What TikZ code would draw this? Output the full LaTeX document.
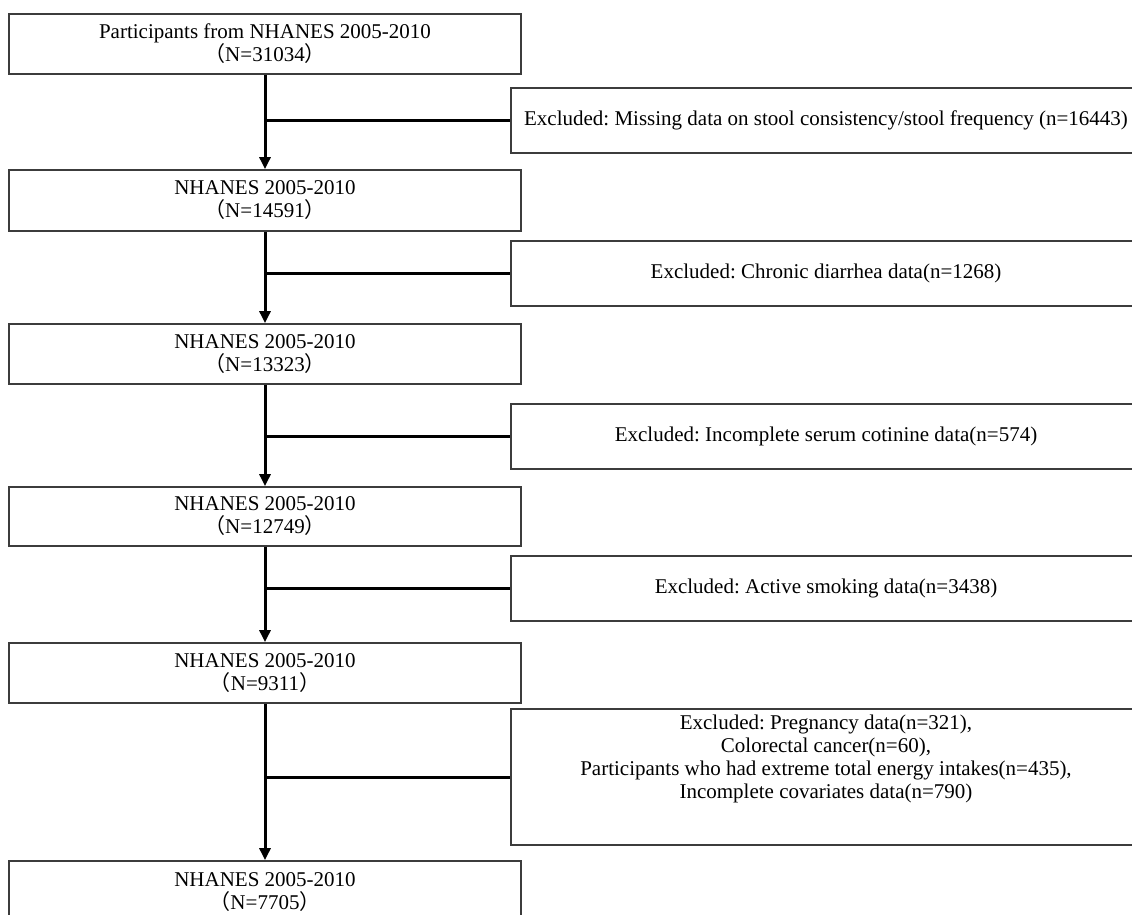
\documentclass[tikz,border=0pt]{standalone}
\usepackage{fontspec}
\setmainfont{Liberation Serif}
\newfontfamily\cjk{Noto Sans CJK SC}
\newcommand{\fl}{{\cjk （}}
\newcommand{\fr}{{\cjk ）}}
\usetikzlibrary{arrows.meta}
\definecolor{boxline}{HTML}{3C3C3C}
\tikzset{
  mainbox/.style={draw=boxline, line width=1.8pt, minimum width=512pt, inner sep=0pt, align=center,
    font=\fontsize{21}{23}\selectfont\frenchspacing},
  exbox/.style={draw=boxline, line width=1.8pt, minimum width=630pt, inner sep=0pt, minimum height=65pt, align=center,
    font=\fontsize{21}{23}\selectfont\frenchspacing},
  flow/.style={line width=3pt, black, -{Triangle[width=11pt,length=12pt]}},
  branch/.style={line width=3pt, black},
}
\begin{document}
\begin{tikzpicture}[x=1pt,y=-1pt]
\useasboundingbox (0,0) rectangle (1132,915);
\clip (0,0) rectangle (1132,915);
\node[mainbox, minimum height=60pt] (b1) at (265,44) {Participants from NHANES 2005-2010\\\fl N=31034\fr};
\node[mainbox, minimum height=61pt] (b2) at (265,200.5) {NHANES 2005-2010\\\fl N=14591\fr};
\node[mainbox, minimum height=60pt] (b3) at (265,354) {NHANES 2005-2010\\\fl N=13323\fr};
\node[mainbox, minimum height=59pt] (b4) at (265,516.5) {NHANES 2005-2010\\\fl N=12749\fr};
\node[mainbox, minimum height=60pt] (b5) at (265,673) {NHANES 2005-2010\\\fl N=9311\fr};
\node[mainbox, minimum height=62pt] (b6) at (265,892) {NHANES 2005-2010\\\fl N=7705\fr};

\node[exbox] (e1) at (826,120.5) {Excluded: Missing data on stool consistency/stool frequency (n=16443)};
\node[exbox] (e2) at (826,273.5) {Excluded: Chronic diarrhea data(n=1268)};
\node[exbox] (e3) at (826,436.5) {Excluded: Incomplete serum cotinine data(n=574)};
\node[exbox] (e4) at (826,588.5) {Excluded: Active smoking data(n=3438)};
\node[exbox, minimum height=136pt] (e5) at (826,777) {\parbox[c][124pt][t]{620pt}{\centering\fontsize{21}{23}\selectfont\frenchspacing
  Excluded: Pregnancy data(n=321),\\Colorectal cancer(n=60),\\Participants who had extreme total energy intakes(n=435),\\Incomplete covariates data(n=790)}};

\draw[flow] (b1.south) -- (b2.north);
\draw[flow] (b2.south) -- (b3.north);
\draw[flow] (b3.south) -- (b4.north);
\draw[flow] (b4.south) -- (b5.north);
\draw[flow] (b5.south) -- (b6.north);

\draw[branch] (e1.west -| b1.south) -- (e1.west);
\draw[branch] (e2.west -| b2.south) -- (e2.west);
\draw[branch] (e3.west -| b3.south) -- (e3.west);
\draw[branch] (e4.west -| b4.south) -- (e4.west);
\draw[branch] (e5.west -| b5.south) -- (e5.west);
\end{tikzpicture}
\end{document}
